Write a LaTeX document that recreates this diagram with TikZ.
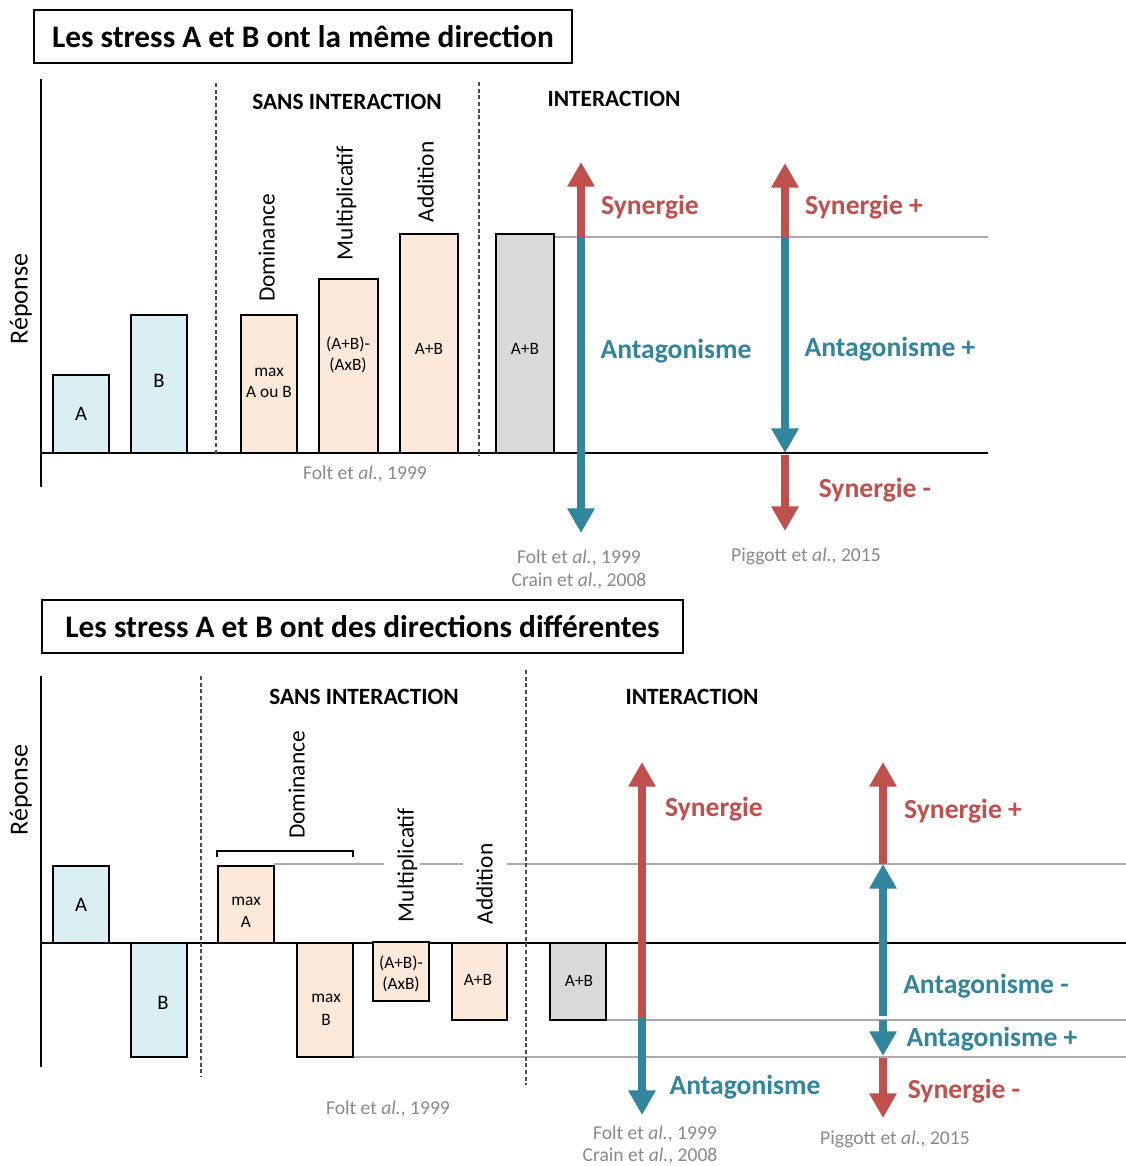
\documentclass[tikz,border=0pt]{standalone}
\usepackage{fontspec}
\setmainfont{Carlito}
\usetikzlibrary{arrows.meta}
\definecolor{myred}{HTML}{C0504D}
\definecolor{myblue}{HTML}{31859C}
\definecolor{lblue}{HTML}{DAEEF3}
\definecolor{peach}{HTML}{FDE9D9}
\definecolor{lgray}{HTML}{D9D9D9}
\definecolor{citegray}{HTML}{8A8A8A}
\definecolor{refgray}{HTML}{ABABAB}
\newcommand{\mybar}[6]{\node[barbox,#6,minimum width={(#4-#2)*0.75pt},minimum height={(#5-#3)*0.75pt}] (#1) at ({(#2+#4)/2},{(#3+#5)/2}) {};}
\begin{document}
\begin{tikzpicture}[x=0.75pt,y=-0.75pt,
  txt/.style={inner sep=0pt,text height=1em,text depth=0pt},
  barbox/.style={draw=black,line width=1.5pt,inner sep=0pt,outer sep=0pt},
  bartxt/.style={txt,font=\fontsize{13}{15}\selectfont},
  ltr/.style={txt,font=\fontsize{15.5}{18}\selectfont},
  titlebox/.style={draw=black,line width=1.5pt,inner sep=0pt,font=\bfseries\fontsize{23.5}{28}\selectfont},
  sect/.style={txt,font=\bfseries\fontsize{17.5}{20}\selectfont},
  rot/.style={txt,rotate=90,font=\fontsize{17.5}{20}\selectfont},
  rep/.style={txt,rotate=90,font=\fontsize{19.5}{22}\selectfont},
  syn/.style={txt,text=myred,font=\bfseries\fontsize{20.7}{24}\selectfont},
  ant/.style={txt,text=myblue,font=\bfseries\fontsize{20.7}{24}\selectfont},
  cite/.style={txt,text=citegray,font=\fontsize{14.7}{17.5}\selectfont},
  axis/.style={line width=1.5pt,black},
  refline/.style={line width=1pt,refgray},
  vdash/.style={line width=0.8pt,black!70,dash pattern=on 3pt off 2pt},
  redarr/.style={line width=6.4pt,myred,-{Triangle[width=19.5pt,length=18.5pt]}},
  bluearr/.style={line width=6.4pt,myblue,-{Triangle[width=19.5pt,length=18.5pt]}},
]
\useasboundingbox (0,0) rectangle (1126,1166);
\fill[white] (0,0) rectangle (1126,1166);

% ================= TOP PANEL =================
\node[titlebox,minimum width=538*0.75pt,minimum height=53*0.75pt] (t1) at (303,36.5) {Les stress A et B ont la même direction};

\draw[refline] (554,237) -- (988,237);
\draw[axis] (41,79) -- (41,487);
\draw[axis] (41,453) -- (988,453);
\draw[vdash] (216,83) -- (216,453);
\draw[vdash] (479,82) -- (479,456);

\mybar{ta}{53}{375}{109}{453}{fill=lblue}
\mybar{tb}{131}{315}{187}{453}{fill=lblue}
\mybar{tdom}{241}{315}{297}{453}{fill=peach}
\mybar{tmul}{319}{279}{378}{453}{fill=peach}
\mybar{tadd}{400}{234}{458}{453}{fill=peach}
\mybar{tint}{496}{234}{554}{453}{fill=lgray}

\node[ltr] (tal) at (81,414) {A};
\node[ltr] (tbl) at (159,381) {B};
\node[bartxt] (tdl1) at (269,370) {max};
\node[bartxt] (tdl2) at (269,391) {A ou B};
\node[bartxt] (tml1) at (348,343) {(A+B)-};
\node[bartxt] (tml2) at (348,364) {(AxB)};
\node[bartxt] (tadl) at (429,348) {A+B};
\node[bartxt] (tintl) at (525,348) {A+B};

\node[rot] (tdomr) at (268,248) {Dominance};
\node[rot] (tmulr) at (346,203) {Multiplicatif};
\node[rot] (taddr) at (427,182) {Addition};
\node[rep] (trep) at (21,299) {Réponse};
\node[sect] (tsans) at (347,103) {SANS INTERACTION};
\node[sect] (tinter) at (614,100) {INTERACTION};

% arrows top
\coordinate (a1s) at (581,237);
\coordinate (a1t) at (581,162);
\coordinate (a1b) at (581,533);
\draw[redarr] (a1s) -- (a1t);
\draw[bluearr] (a1s) -- (a1b);
\coordinate (a2s) at (785,237);
\coordinate (a2t) at (785,163);
\coordinate (a2m) at (785,453);
\coordinate (a2n) at (785,455);
\coordinate (a2b) at (785,531);
\draw[redarr] (a2s) -- (a2t);
\draw[bluearr] (a2s) -- (a2m);
\draw[redarr] (a2n) -- (a2b);

\node[syn] (tsyn1) at (650,208) {Synergie};
\node[ant] (tant1) at (676,352) {Antagonisme};
\node[syn] (tsyn2) at (864,208) {Synergie +};
\node[ant] (tant2) at (890,350) {Antagonisme +};
\node[syn] (tsyn3) at (875,491) {Synergie -};

\node[cite] (tc1) at (365,473) {Folt et \textit{al.}, 1999};
\node[cite] (tc2) at (579,557) {Folt et \textit{al.}, 1999};
\node[cite] (tc3) at (579,580) {Crain et \textit{al.}, 2008};
\node[cite] (tc4) at (806,555) {Piggott et \textit{al.}, 2015};

% ================= BOTTOM PANEL =================
\node[titlebox,minimum width=641*0.75pt,minimum height=53*0.75pt] (t2) at (362.5,626.5) {Les stress A et B ont des directions différentes};

\draw[refline] (274,864) -- (384,864);
\draw[refline] (420,864) -- (463,864);
\draw[refline] (507,864) -- (1126,864);
\draw[refline] (606,1020) -- (1126,1020);
\draw[refline] (353,1057) -- (1126,1057);
\draw[axis] (41,676) -- (41,1067);
\draw[axis] (41,943) -- (1126,943);
\draw[vdash] (201,676) -- (201,1077);
\draw[vdash] (526,670) -- (526,1085);
\draw[line width=1.2pt] (217,857) -- (217,851) -- (353,851) -- (353,857);

\mybar{ba}{53}{866}{109}{943}{fill=lblue}
\mybar{bb}{131}{943}{187}{1057}{fill=lblue}
\mybar{bmaxa}{218}{866}{274}{943}{fill=peach}
\mybar{bmaxb}{297}{943}{353}{1057}{fill=peach}
\mybar{bmul}{373}{942}{429}{1001}{fill=peach}
\mybar{badd}{452}{943}{507}{1020}{fill=peach}
\mybar{bint}{550}{943}{606}{1020}{fill=lgray}

\node[ltr] (bal) at (81,905) {A};
\node[ltr] (bbl) at (163,1003) {B};
\node[bartxt] (bmal1) at (246,899) {max};
\node[bartxt] (bmal2) at (246,921) {A};
\node[bartxt] (bmbl1) at (326,996) {max};
\node[bartxt] (bmbl2) at (326,1019) {B};
\node[bartxt] (bml1) at (401,962) {(A+B)-};
\node[bartxt] (bml2) at (401,983) {(AxB)};
\node[bartxt] (badl) at (478,979) {A+B};
\node[bartxt] (bintl) at (579,980) {A+B};

\node[rot] (bdomr) at (298,785) {Dominance};
\node[rot] (bmulr) at (407,865) {Multiplicatif};
\node[rot] (baddr) at (486,884) {Addition};
\node[rep] (brep) at (21,790) {Réponse};
\node[sect] (bsans) at (364,698) {SANS INTERACTION};
\node[sect] (binter) at (692,698) {INTERACTION};

% arrows bottom
\coordinate (b1s) at (642,1018);
\coordinate (b1t) at (642,762);
\coordinate (b1b) at (642,1115);
\draw[redarr] (b1s) -- (b1t);
\draw[bluearr] (b1s) -- (b1b);
\coordinate (b2a) at (883,864);
\coordinate (b2t) at (883,762);
\coordinate (b2c) at (883,1016);
\coordinate (b2d) at (883,1020);
\coordinate (b2e) at (883,1056);
\coordinate (b2f) at (883,1058);
\coordinate (b2b) at (883,1118);
\draw[redarr] (b2a) -- (b2t);
\draw[bluearr] (b2c) -- (b2a);
\draw[bluearr] (b2d) -- (b2e);
\draw[redarr] (b2f) -- (b2b);

\node[syn] (bsyn1) at (714,810) {Synergie};
\node[ant] (bant1) at (745,1088) {Antagonisme};
\node[syn] (bsyn2) at (963,812) {Synergie +};
\node[ant] (bant2) at (986,987) {Antagonisme -};
\node[ant] (bant3) at (992,1040) {Antagonisme +};
\node[syn] (bsyn3) at (964,1092) {Synergie -};

\node[cite] (bc1) at (388,1108) {Folt et \textit{al.}, 1999};
\node[cite] (bc2) at (655,1133) {Folt et \textit{al.}, 1999};
\node[cite] (bc3) at (650,1155) {Crain et \textit{al.}, 2008};
\node[cite] (bc4) at (895,1138) {Piggott et \textit{al.}, 2015};
\end{tikzpicture}
\end{document}
